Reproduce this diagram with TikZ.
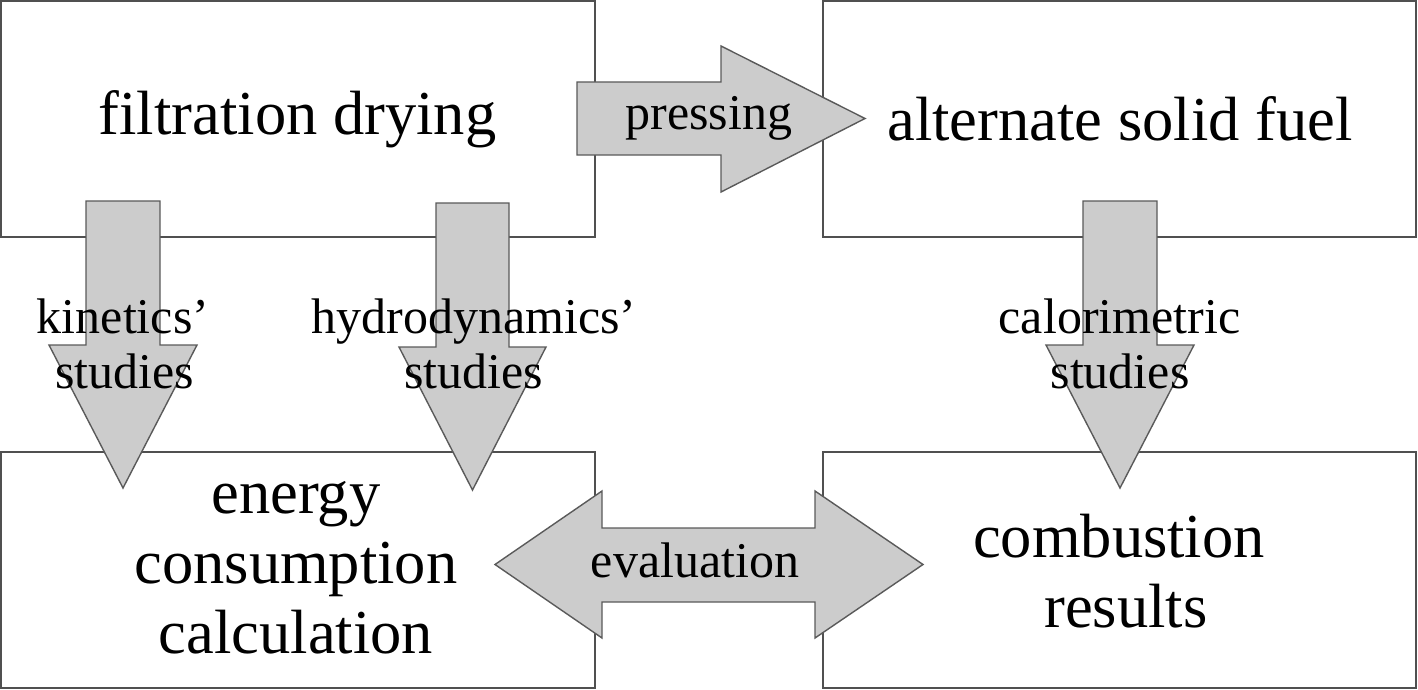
\documentclass[tikz,border=0pt]{standalone}
\usepackage{fontspec}
\setmainfont{Liberation Serif}
\definecolor{boxline}{HTML}{505050}
\definecolor{arrfill}{HTML}{CCCCCC}
\definecolor{arrline}{HTML}{5A5A5A}
\begin{document}
\begin{tikzpicture}[x=1pt,y=-1pt,
  procbox/.style={draw=boxline,line width=1.6pt,fill=white},
  blockarrow/.style={draw=arrline,line width=1.4pt,fill=arrfill,line join=miter},
  boxtext/.style={anchor=base,inner sep=0pt,font=\fontsize{62.5}{70}\selectfont},
  arrtext/.style={anchor=base,inner sep=0pt,font=\fontsize{50}{55}\selectfont}]
\useasboundingbox (0,0) rectangle (1418,690);
% boxes
\draw[procbox] (1,1) rectangle (595,237);
\draw[procbox] (823,1) rectangle (1416,237);
\draw[procbox] (1,452) rectangle (595,688);
\draw[procbox] (823,452) rectangle (1416,688);
% box texts
\node[boxtext] (fd) at (297.5,135) {filtration drying};
\node[boxtext] (asf) at (1120,140) {alternate solid fuel};
\node[boxtext] (ecc1) at (296,513) {energy};
\node[boxtext] (ecc2) at (296,583) {consumption};
\node[boxtext] (ecc3) at (296,653) {calculation};
\node[boxtext] (cr1) at (1119,557) {combustion};
\node[boxtext] (cr2) at (1126,627) {results};
% pressing arrow
\draw[blockarrow] (577,82) -- (721,82) -- (721,46) -- (865,118.5) -- (721,192) -- (721,155) -- (577,155) -- cycle;
% evaluation double arrow
\draw[blockarrow] (495,564.5) -- (602,491) -- (602,528) -- (815,528) -- (815,491) -- (923,564.5) -- (815,638) -- (815,602) -- (602,602) -- (602,638) -- cycle;
% down arrows
\draw[blockarrow] (86,201) -- (160,201) -- (160,345) -- (197,345) -- (123,488) -- (49,345) -- (86,345) -- cycle;
\draw[blockarrow] (436,203) -- (509,203) -- (509,347) -- (546,347) -- (472.5,490) -- (399,347) -- (436,347) -- cycle;
\draw[blockarrow] (1083,201) -- (1157,201) -- (1157,345) -- (1194,345) -- (1120,488) -- (1046,345) -- (1083,345) -- cycle;
% arrow labels
\node[arrtext] (pr) at (709,130) {pressing};
\node[arrtext] (ev) at (695,577) {evaluation};
\node[arrtext] (k1) at (123,333) {kinetics’};
\node[arrtext] (k2) at (124.5,388) {studies};
\node[arrtext] (h1) at (474,333) {hydrodynamics’};
\node[arrtext] (h2) at (473.5,388) {studies};
\node[arrtext] (c1) at (1119.5,333) {calorimetric};
\node[arrtext] (c2) at (1120,388) {studies};
\end{tikzpicture}
\end{document}
